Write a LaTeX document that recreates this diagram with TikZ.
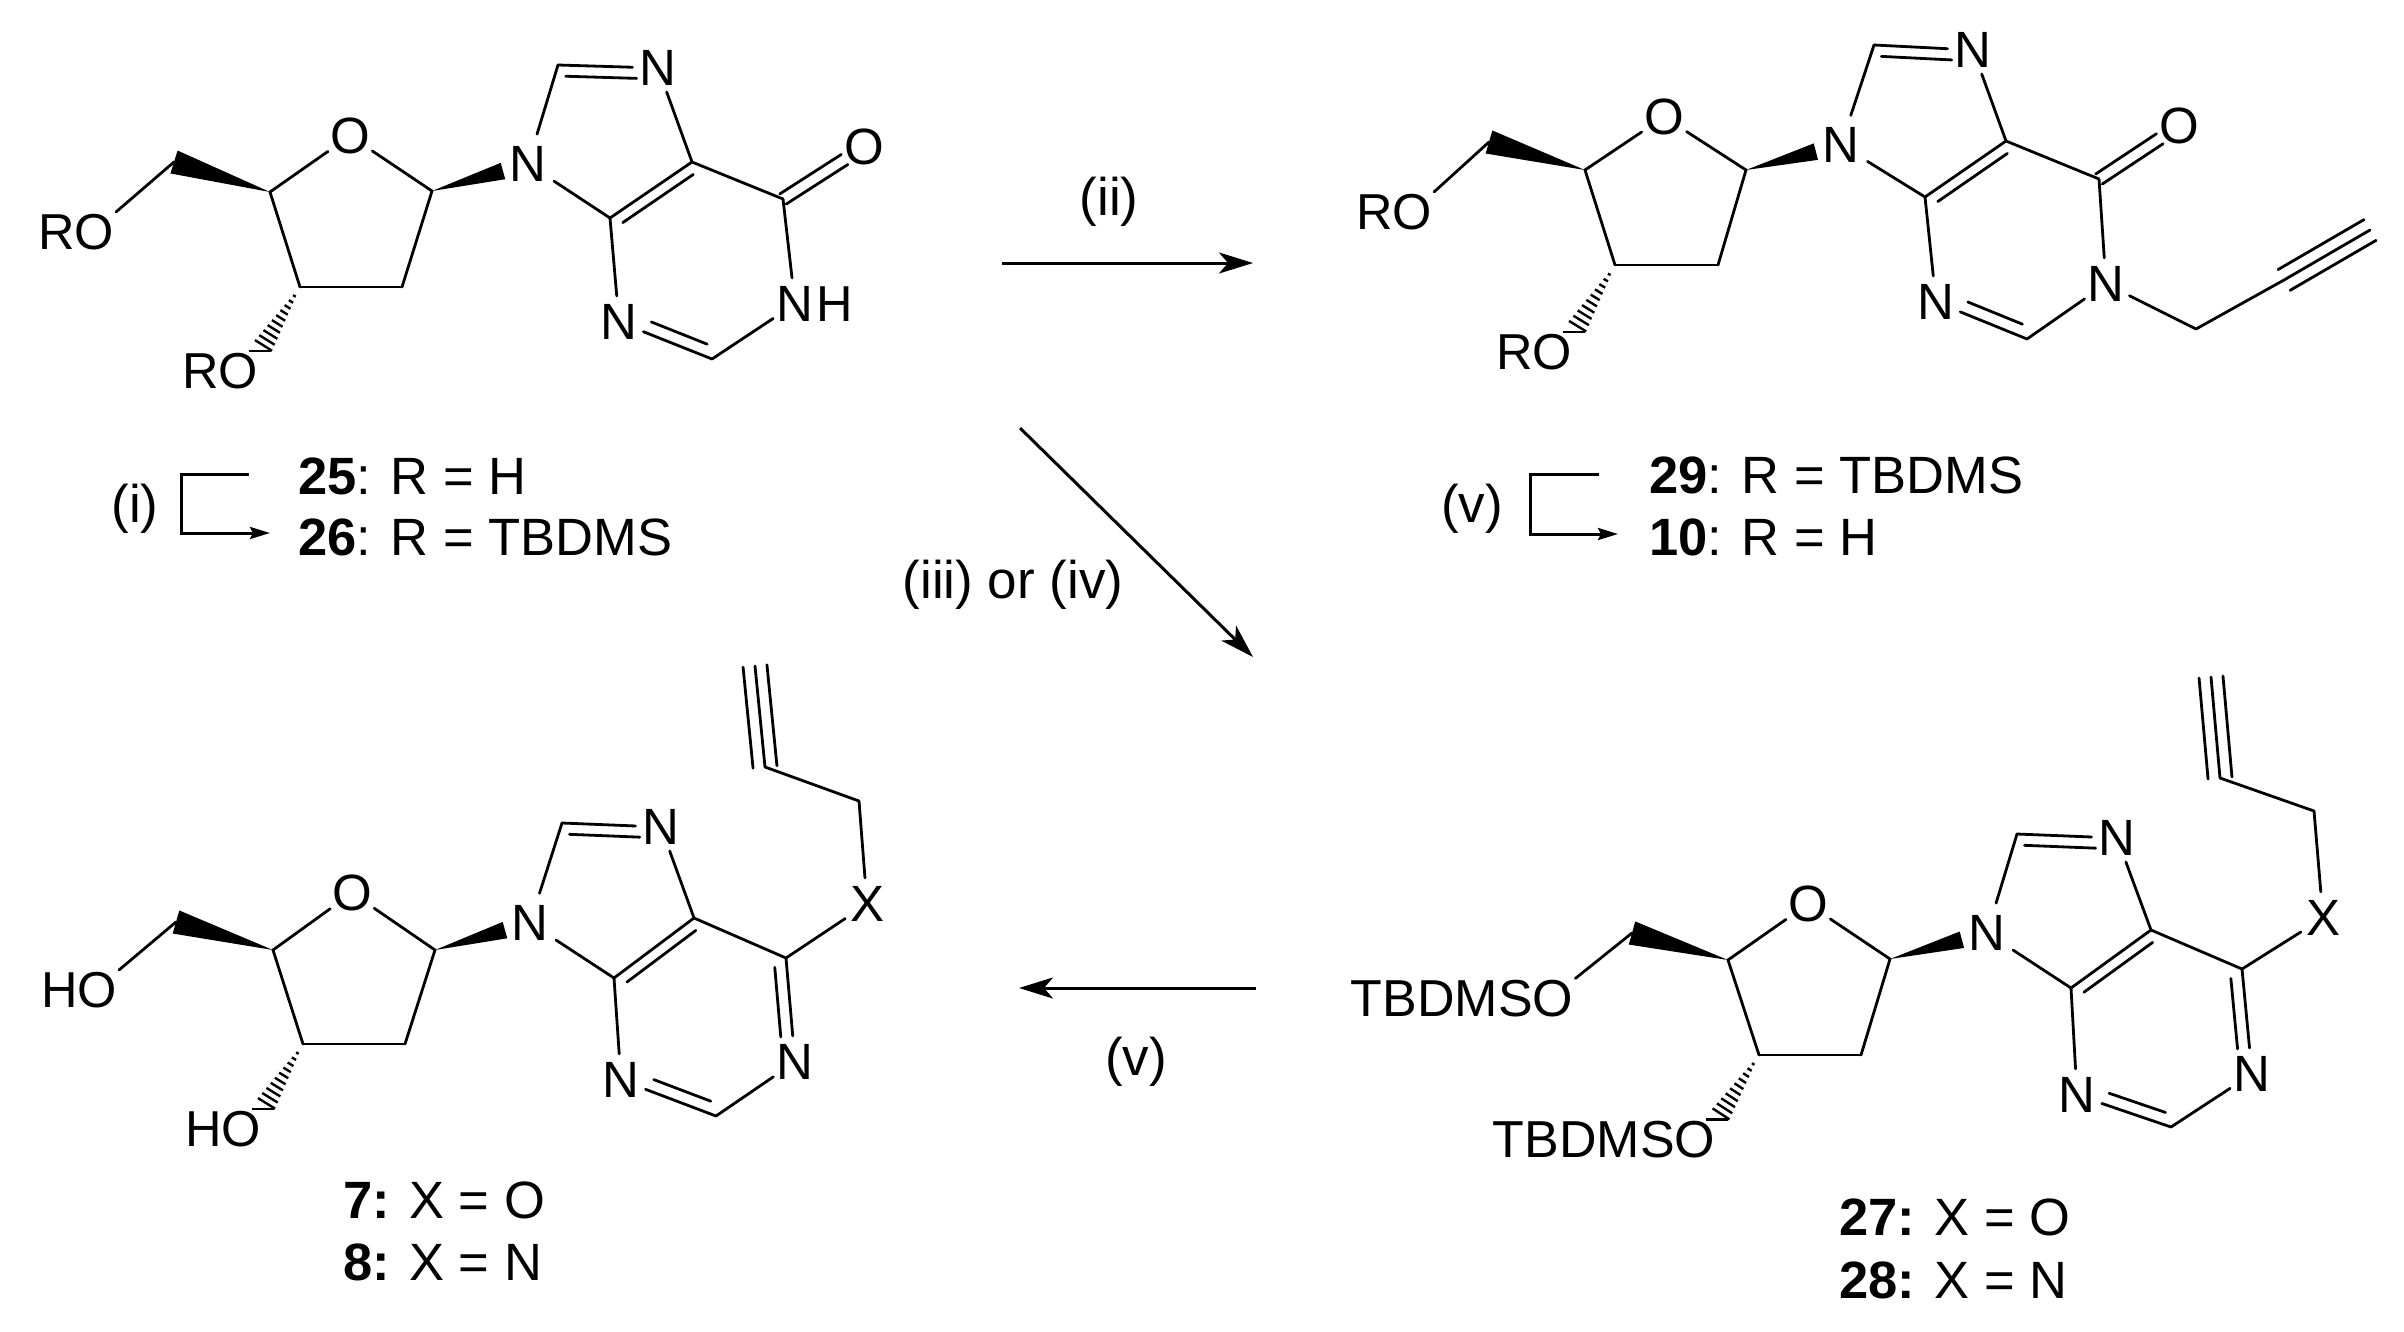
\documentclass[tikz,border=0pt]{standalone}
\usepackage{fontspec}
\setmainfont{Liberation Sans}
\usepackage{tikz}
\usetikzlibrary{calc}
\usetikzlibrary{arrows.meta}
\usetikzlibrary{positioning}

\tikzset{
    atom/.style={circle,inner sep=0pt,minimum size=52pt,font=\fontsize{51}{60}\selectfont},
    grp/.style={inner sep=2pt,font=\fontsize{50.5}{60}\selectfont},
    tgrp/.style={inner sep=2pt,font=\fontsize{52}{60}\selectfont},
    cmpd/.style={anchor=west,inner sep=0pt,font=\fontsize{52.5}{62}\selectfont},
    reagent/.style={inner sep=0pt,font=\fontsize{53}{62}\selectfont},
    bond/.style={line width=2.8pt,line cap=round},
    rxn/.style={line width=3pt,-{Stealth[length=34pt,width=21pt,inset=9pt]}},
    braket/.style={line width=3pt,-{Stealth[length=20pt,width=12pt,inset=3pt]}},
}

\newcommand{\dblbond}[5]{
\path[bond] (#1) edge (#2);
\draw[bond] ($(#1)!#4!(#2)!#3!90:(#2)$) -- ($(#1)!#5!(#2)!#3!90:(#2)$);
}
\newcommand{\eqbond}[3]{
\draw[bond] ($(#1)!6pt!90:(#2)$) -- ($(#1)!#3!(#2)!6pt!90:(#2)$);
\draw[bond] ($(#1)!6pt!-90:(#2)$) -- ($(#1)!#3!(#2)!6pt!-90:(#2)$);
}
\newcommand{\tplbond}[2]{
\draw[bond] (#1) -- (#2);
\draw[bond] ($(#1)!12pt!90:(#2)$) -- ($(#2)!12pt!-90:(#1)$);
\draw[bond] ($(#1)!12pt!-90:(#2)$) -- ($(#2)!12pt!90:(#1)$);
}
\newcommand{\wedgebond}[4]{
\fill (#1) -- ($(#2)!#3!(#1)!#4!90:(#1)$) -- ($(#2)!#3!(#1)!#4!-90:(#1)$) -- cycle;
}
\newcommand{\hashbond}[2]{
\foreach \n in {0,...,10}{
    \pgfmathsetmacro{\t}{.14+.086*\n}
    \pgfmathsetmacro{\hw}{11*\t}
    \draw[line width=2.4pt] ($(#1)!\t!(#2)!\hw pt!90:(#2)$) -- ($(#1)!\t!(#2)!\hw pt!-90:(#2)$);
}
}
\newcommand{\nucleoside}[1]{
\path[bond] (#1-c4p) edge (#1-o4)
            (#1-o4) edge (#1-c1p)
            (#1-c1p) edge (#1-c2p)
            (#1-c2p) edge (#1-c3p)
            (#1-c3p) edge (#1-c4p)
            (#1-c5p) edge (#1-o5.north east)
            (#1-n9) edge (#1-c8)
            (#1-n7) edge (#1-c5)
            (#1-c5) edge (#1-c6)
            (#1-c4) edge (#1-n9)
            (#1-c4) edge (#1-n3)
            (#1-c2) edge (#1-n1);
\dblbond{#1-c8}{#1-n7}{-11pt}{.08}{.79}
\dblbond{#1-c5}{#1-c4}{11pt}{.06}{.92}
\dblbond{#1-c2}{#1-n3}{-12pt}{.1}{.7}
\wedgebond{#1-c4p}{#1-c5p}{0pt}{12pt}
\wedgebond{#1-c1p}{#1-n9}{26pt}{8.5pt}
\hashbond{#1-c3p}{#1-o3.north east}
}

\begin{document}
\begin{tikzpicture}[x=1pt,y=-1pt]
\useasboundingbox (0,0) rectangle (2404,1331);

\node[atom] (a-o4) at (350,136) {O};
\node[atom,minimum size=62pt] (a-n9) at (528,164) {N};
\node[atom,minimum size=44pt] (a-n7) at (658,68) {N};
\node[atom] (a-n3) at (619,322) {N};
\node[atom] (a-n1) at (795,304) {N};
\node[grp,right=-7pt of a-n1] (a-h1) {H};
\node[atom] (a-o6) at (864,147) {O};
\node[grp] (a-o5) at (76,232) {RO};
\node[grp] (a-o3) at (220,371) {RO};
\coordinate (a-c4p) at (270,192);
\coordinate (a-c5p) at (174,162);
\coordinate (a-c3p) at (300,287);
\coordinate (a-c2p) at (402,287);
\coordinate (a-c1p) at (432,191);
\coordinate (a-c8) at (558,65);
\coordinate (a-c5) at (692,162);
\coordinate (a-c4) at (610,218);
\coordinate (a-c2) at (712,359);
\coordinate (a-c6) at (783,199);
\nucleoside{a}
\path[bond] (a-n1) edge (a-c6);
\eqbond{a-c6}{a-o6}{.76}

\node[atom] (b-o4) at (1664,117) {O};
\node[atom,minimum size=62pt] (b-n9) at (1841,145) {N};
\node[atom,minimum size=44pt] (b-n7) at (1973,50) {N};
\node[atom] (b-n3) at (1936,302) {N};
\node[atom] (b-n1) at (2106,284) {N};
\node[atom] (b-o6) at (2179,126) {O};
\node[grp] (b-o5) at (1394,212) {RO};
\node[grp] (b-o3) at (1534,352) {RO};
\coordinate (b-c4p) at (1585,170);
\coordinate (b-c5p) at (1489,142);
\coordinate (b-c3p) at (1615,265);
\coordinate (b-c2p) at (1718,265);
\coordinate (b-c1p) at (1746,170);
\coordinate (b-c8) at (1874,45);
\coordinate (b-c5) at (2006,141);
\coordinate (b-c4) at (1925,197);
\coordinate (b-c2) at (2027,339);
\coordinate (b-c6) at (2099,179);
\coordinate (b-ch) at (2196,329);
\coordinate (b-ca) at (2284,280);
\coordinate (b-cb) at (2370,230);
\nucleoside{b}
\path[bond] (b-n1) edge (b-c6)
            (b-n1) edge (b-ch)
            (b-ch) edge (b-ca);
\eqbond{b-c6}{b-o6}{.76}
\tplbond{b-ca}{b-cb}

\node[atom] (c-o4) at (352,893) {O};
\node[atom,minimum size=62pt] (c-n9) at (530,923) {N};
\node[atom,minimum size=44pt] (c-n7) at (661,827) {N};
\node[atom] (c-n3) at (621,1080) {N};
\node[atom] (c-n1) at (795,1062) {N};
\node[atom] (c-x) at (867,904) {X};
\node[grp] (c-o5) at (79,990) {HO};
\node[grp] (c-o3) at (223,1129) {HO};
\coordinate (c-c4p) at (273,950);
\coordinate (c-c5p) at (176,922);
\coordinate (c-c3p) at (303,1044);
\coordinate (c-c2p) at (405,1044);
\coordinate (c-c1p) at (435,950);
\coordinate (c-c8) at (562,823);
\coordinate (c-c5) at (694,918);
\coordinate (c-c4) at (614,978);
\coordinate (c-c2) at (716,1116);
\coordinate (c-c6) at (786,958);
\coordinate (c-ch) at (859,801);
\coordinate (c-ca) at (765,767);
\coordinate (c-cb) at (755,666);
\nucleoside{c}
\dblbond{c-c6}{c-n1}{-12pt}{.08}{.75}
\path[bond] (c-c6) edge (c-x)
            (c-x) edge (c-ch)
            (c-ch) edge (c-ca);
\tplbond{c-ca}{c-cb}

\node[atom] (d-o4) at (1808,904) {O};
\node[atom,minimum size=62pt] (d-n9) at (1987,933) {N};
\node[atom,minimum size=44pt] (d-n7) at (2117,838) {N};
\node[atom] (d-n3) at (2077,1095) {N};
\node[atom] (d-n1) at (2252,1074) {N};
\node[atom] (d-x) at (2323,918) {X};
\node[tgrp] (d-o5) at (1462,999) {TBDMSO};
\node[tgrp] (d-o3) at (1604,1140) {TBDMSO};
\coordinate (d-c4p) at (1728,960);
\coordinate (d-c5p) at (1632,933);
\coordinate (d-c3p) at (1759,1055);
\coordinate (d-c2p) at (1861,1055);
\coordinate (d-c1p) at (1890,959);
\coordinate (d-c8) at (2017,834);
\coordinate (d-c5) at (2151,930);
\coordinate (d-c4) at (2071,988);
\coordinate (d-c2) at (2171,1127);
\coordinate (d-c6) at (2242,969);
\coordinate (d-ch) at (2314,811);
\coordinate (d-ca) at (2220,778);
\coordinate (d-cb) at (2211,677);
\nucleoside{d}
\dblbond{d-c6}{d-n1}{-12pt}{.08}{.75}
\path[bond] (d-c6) edge (d-x)
            (d-x) edge (d-ch)
            (d-ch) edge (d-ca);
\tplbond{d-ca}{d-cb}

\node[cmpd] (l25) at (298,476) {\textbf{25}: R = H};
\node[cmpd] (l26) at (298,537) {\textbf{26}: R = TBDMS};
\node[cmpd] (l29) at (1649,475) {\textbf{29}: R = TBDMS};
\node[cmpd] (l10) at (1649,537) {\textbf{10}: R = H};
\node[cmpd] (l7) at (343,1200) {\textbf{7:} X = O};
\node[cmpd] (l8) at (343,1262) {\textbf{8:} X = N};
\node[cmpd] (l27) at (1839,1217) {\textbf{27:} X = O};
\node[cmpd] (l28) at (1839,1280) {\textbf{28:} X = N};

\node[reagent] (r1) at (135,509) {(i)};
\node[reagent] (r5) at (1472,509) {(v)};
\node[reagent] (r2) at (1109,202) {(ii)};
\node[reagent] (r34) at (1013,585) {(iii) or (iv)};
\node[reagent] (r5b) at (1136,1062) {(v)};

\coordinate (a-bt) at (249,474);
\coordinate (a-bs) at (181,474);
\coordinate (a-be) at (270,533);
\draw[braket] (a-bt) -- (a-bs) |- (a-be);
\coordinate (b-bt) at (1599,474);
\coordinate (b-bs) at (1530,474);
\coordinate (b-be) at (1618,534);
\draw[braket] (b-bt) -- (b-bs) |- (b-be);

\coordinate (s2) at (1002,263);
\coordinate (e2) at (1253,263);
\coordinate (s34) at (1020,428);
\coordinate (e34) at (1253,657);
\coordinate (s5) at (1256,988);
\coordinate (e5) at (1019,988);
\draw[rxn] (s2) -- (e2);
\draw[rxn] (s34) -- (e34);
\draw[rxn] (s5) -- (e5);
\end{tikzpicture}
\end{document}
